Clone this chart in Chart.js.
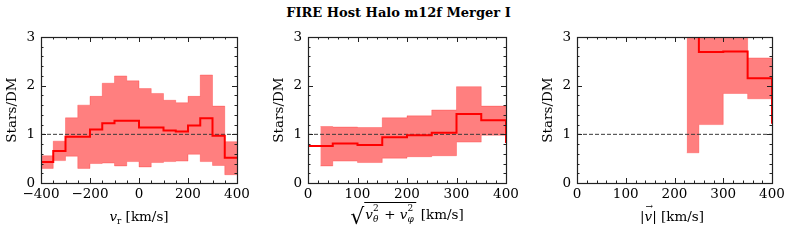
<!DOCTYPE html>
<html>
<head>
<meta charset="utf-8">
<script src="https://cdn.jsdelivr.net/npm/chart.js@4"></script>
<style>
  body { margin: 0; background: #fff; }
  #wrap { position: relative; width: 789px; height: 241px; overflow: hidden; font-family: "DejaVu Serif", serif; }
  canvas { position: absolute; top: 0; }
  .ttl { position: absolute; top: 5px; left: 0; width: 797px; text-align: center; font: bold 13px "DejaVu Serif", serif; }
  .xl { position: absolute; font-size: 13.5px; white-space: nowrap; transform: translateX(-50%); line-height: 1; }
  .xl sub { font-size: 9px; vertical-align: -3px; }
  .ss { position: relative; display: inline-block; width: 7px; height: 10px; font-size: 9px; }
  .ss .up { position: absolute; left: 0; top: -5px; }
  .ss .dn { position: absolute; left: 0; top: 6px; font-style: italic; }
  .rad { border-top: 1px solid #000; padding: 3px 2px 0 1px; }
  .sq { font-size: 22px; vertical-align: -5px; }
  .vec { position: relative; font-style: italic; }
  .vec b { position: absolute; left: 1px; top: -6px; font-size: 9px; font-weight: normal; font-style: normal; }
</style>
</head>
<body>
<div id="wrap">
  <div class="ttl">FIRE Host Halo m12f Merger I</div>
  <canvas id="c1" width="251" height="241" style="left:0px"></canvas>
  <canvas id="c2" width="253" height="241" style="left:267px"></canvas>
  <canvas id="c3" width="250" height="241" style="left:536px"></canvas>
  <div class="xl" style="left:139px;top:210px"><i>v</i><sub>r</sub> [km/s]</div>
  <div class="xl" style="left:407px;top:206px"><span class="sq">√</span><span class="rad"><i>v</i><span class="ss"><span class="up">2</span><span class="dn">θ</span></span> + <i>v</i><span class="ss"><span class="up">2</span><span class="dn">φ</span></span></span> [km/s]</div>
  <div class="xl" style="left:672px;top:210px">|<span class="vec">v<b>→</b></span>| [km/s]</div>
</div>
<script>
// panel 1 : radial velocity, 50 km/s bins
const vrEdges = [-400,-350,-300,-250,-200,-150,-100,-50,0,50,100,150,200,250,300,350,400]
const vrRatio = [0.43,0.66,0.95,0.95,1.10,1.23,1.28,1.28,1.14,1.14,1.08,1.06,1.18,1.33,0.97,0.52]
const vrUpper = [0.56,0.86,1.34,1.60,1.78,2.05,2.20,2.10,1.94,1.84,1.70,1.65,1.78,2.22,1.58,0.85]
const vrLower = [0.30,0.46,0.55,0.30,0.40,0.41,0.35,0.44,0.33,0.42,0.44,0.45,0.59,0.44,0.36,0.17]

// panel 2 : tangential velocity
const vtEdges = [0,50,100,150,200,250,300,350,400,450]
const vtRatio = [0.76,0.81,0.78,0.94,0.98,1.03,1.42,1.29,0.82]
const vtBandEdges = [25,50,100,150,200,250,300,350,400]
const vtUpper = [1.16,1.15,1.14,1.34,1.38,1.50,1.98,1.58]
const vtLower = [0.35,0.45,0.42,0.51,0.54,0.56,0.84,0.98]

// panel 3 : total velocity (values above 3 are off the top)
const vEdges = [225,250,300,350,400,450]
const vRatio = [4.0,2.69,2.70,2.15,1.22]
const vBandEdges = [225,250,300,350,400]
const vUpper = [4.0,4.0,4.0,2.57]
const vLower = [0.62,1.20,1.84,1.73]

const yTicks = [0,1,2,3]

function steps(edges, vals){
    return edges.map((x,i) => ({x: x, y: vals[Math.min(i, vals.length-1)]}))
}

const font = {family: '"DejaVu Serif", serif', size: 13.5}

// frame + inward ticks on all four sides
const frameTicks = {
    id: 'frameTicks',
    afterDraw(chart, args, opts){
        const {ctx, chartArea: a, scales: {x, y}} = chart
        ctx.save()
        ctx.strokeStyle = '#222'
        ctx.lineWidth = 1
        ctx.beginPath()
        for(let v = x.min; v <= x.max + 1e-6; v += opts.xMinor){
            const px = Math.round(x.getPixelForValue(v)) + 0.5
            const big = Math.abs(v / opts.xMajor - Math.round(v / opts.xMajor)) < 1e-6
            const len = big ? 5 : 2.5
            ctx.moveTo(px, a.bottom); ctx.lineTo(px, a.bottom - len)
            ctx.moveTo(px, a.top); ctx.lineTo(px, a.top + len)
        }
        for(let v = y.min; v <= y.max + 1e-6; v += 0.2){
            const py = Math.round(y.getPixelForValue(v)) + 0.5
            const big = Math.abs(v - Math.round(v)) < 1e-6
            const len = big ? 5 : 2.5
            ctx.moveTo(a.left, py); ctx.lineTo(a.left + len, py)
            ctx.moveTo(a.right, py); ctx.lineTo(a.right - len, py)
        }
        ctx.stroke()
        ctx.lineWidth = 1.2
        ctx.strokeRect(Math.round(a.left) + 0.5, Math.round(a.top) + 0.5, Math.round(a.right - a.left), Math.round(a.bottom - a.top))
        ctx.restore()
    }
}

function makePanel(id, xmin, xmax, xMajor, xMinor, lineEdges, ratio, bandEdges, upper, lower){
    return new Chart(document.getElementById(id), {
        type: 'line',
        data: {
            datasets: [
                {data: steps(bandEdges, lower), stepped: true, borderColor: 'rgba(255,0,0,0.25)', borderWidth: 1, pointRadius: 0, fill: false, order: 3},
                {data: steps(bandEdges, upper), stepped: true, borderColor: 'rgba(255,0,0,0.25)', borderWidth: 1, pointRadius: 0,
                 fill: {target: 0}, backgroundColor: 'rgba(255,0,0,0.5)', order: 2},
                {data: [{x: xmin, y: 1}, {x: xmax, y: 1}], borderColor: '#3a3a3a', borderWidth: 1, borderDash: [4, 2], pointRadius: 0, fill: false, order: 1},
                {data: steps(lineEdges, ratio), stepped: true, borderColor: '#ff0000', borderWidth: 2, pointRadius: 0, fill: false, order: 0}
            ]
        },
        options: {
            responsive: false,
            animation: false,
            devicePixelRatio: 1,
            layout: {padding: {top: 37, right: 14, left: 0, bottom: 0}},
            plugins: {legend: {display: false}, tooltip: {enabled: false}, frameTicks: {xMajor: xMajor, xMinor: xMinor}},
            scales: {
                x: {
                    type: 'linear', min: xmin, max: xmax,
                    grid: {display: false, drawTicks: false}, border: {display: false},
                    ticks: {stepSize: xMajor, padding: 3, color: '#000', font: font, maxRotation: 0,
                            callback: v => v < 0 ? '\u2212' + Math.abs(v) : '' + v},
                    afterFit: s => { s.height = 58; s.paddingLeft = 0; s.paddingRight = 0 }
                },
                y: {
                    min: 0, max: 3,
                    afterBuildTicks: s => { s.ticks = yTicks.map(v => ({value: v})) },
                    grid: {display: false, drawTicks: false}, border: {display: false},
                    ticks: {padding: 6, color: '#000', font: font},
                    title: {display: true, text: 'Stars/DM', color: '#000', font: font, padding: {top: 4, bottom: 0}},
                    afterFit: s => { s.width = 41; s.paddingTop = 0; s.paddingBottom = 0 }
                }
            }
        },
        plugins: [frameTicks]
    })
}

makePanel('c1', -400, 400, 200, 50, vrEdges, vrRatio, vrEdges, vrUpper, vrLower)
makePanel('c2', 0, 400, 100, 20, vtEdges, vtRatio, vtBandEdges, vtUpper, vtLower)
makePanel('c3', 0, 400, 100, 20, vEdges, vRatio, vBandEdges, vUpper, vLower)
</script>
</body>
</html>
